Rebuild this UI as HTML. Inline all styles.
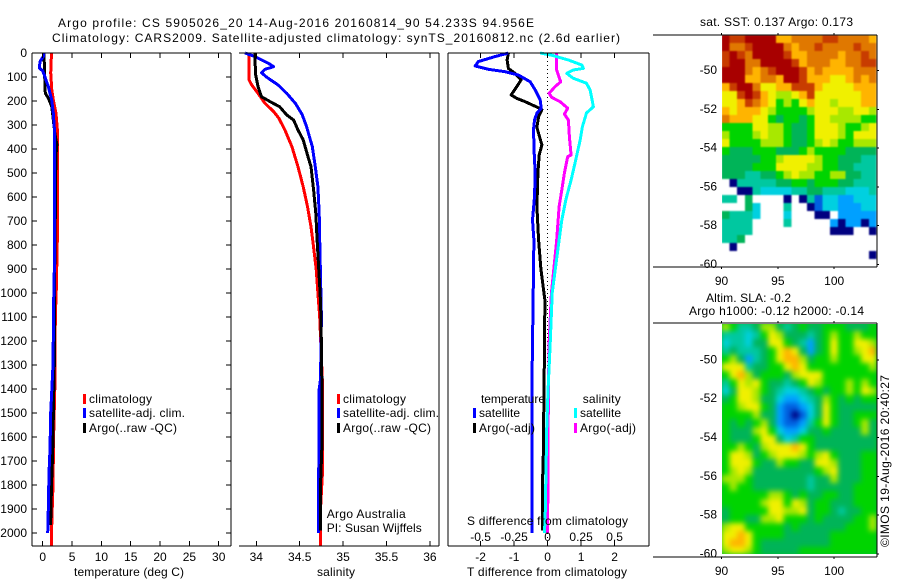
<!DOCTYPE html>
<html>
<head>
<meta charset="utf-8">
<title>Argo profile</title>
<style>
html,body{margin:0;padding:0;background:#fff;width:900px;height:580px;overflow:hidden}
svg{display:block}
text{font-family:"Liberation Sans",sans-serif;font-size:12px;fill:#000}
</style>
</head>
<body>
<svg id="chart" width="900" height="580" viewBox="0 0 900 580" xmlns="http://www.w3.org/2000/svg">
<defs>
<filter id="blur-sst" x="-5%" y="-5%" width="110%" height="110%" color-interpolation-filters="sRGB"><feGaussianBlur stdDeviation="0.9"/></filter>
<filter id="blur-sla" x="-5%" y="-5%" width="110%" height="110%" color-interpolation-filters="sRGB"><feGaussianBlur stdDeviation="2.6"/></filter>
<clipPath id="clip-sst"><rect x="722" y="35" width="155" height="232"/></clipPath>
<clipPath id="clip-sla"><rect x="722" y="324" width="155" height="230"/></clipPath>
</defs>
</svg>
<script>
// ---------- profile data ----------
const tempTicks = [0, 5, 10, 15, 20, 25, 30];
const salTicks = [34, 34.5, 35, 35.5, 36];
const salTickLabels = ['34', '34.5', '35', '35.5', '36'];
const depthTicks = [0, 100, 200, 300, 400, 500, 600, 700, 800, 900, 1000, 1100, 1200, 1300, 1400, 1500, 1600, 1700, 1800, 1900, 2000];
const diffTTicks = [-2, -1, 0, 1, 2];
const diffSTicks = [-0.5, -0.25, 0, 0.25, 0.5];
const diffSTickLabels = ['-0.5', '-0.25', '0', '0.25', '0.5'];
const lonTicks = [90, 95, 100];
const latTicks = [-50, -52, -54, -56, -58, -60];

const tempClimDepth = [0, 83, 154, 196, 251, 321, 760, 1000, 1100, 1362, 1600, 1800, 1950, 2054];
const tempClimValue = [1.5, 1.36, 1.55, 1.8, 2.27, 2.5, 2.5, 2.3, 2.15, 2.1, 1.85, 1.75, 1.55, 1.5];
const tempSatDepth = [0, 15, 36, 63, 74, 99, 140, 196, 251, 335, 830, 1000, 1300, 1500, 1650, 1750, 1900, 2000];
const tempSatValue = [0.22, 0.1, -0.46, -0.58, 0, 0.39, 0.95, 1.53, 1.8, 2.05, 2.05, 1.9, 1.75, 1.36, 1.25, 1.07, 0.95, 0.85];
const tempArgoDepth = [0, 100, 167, 188, 222, 278, 340, 380, 430, 800, 1000, 1300, 1400, 1660, 1800, 1967];
const tempArgoValue = [0.22, 0.34, 0.45, 0.95, 1.53, 1.8, 2.1, 2.42, 2.25, 2.1, 2.0, 1.97, 1.9, 1.7, 1.5, 1.35];

const salClimDepth = [0, 112, 133, 168, 210, 244, 272, 321, 390, 474, 557, 640, 724, 779, 900, 1000, 1100, 1360, 1760, 1900, 2054];
const salClimValue = [33.916, 33.916, 33.947, 34.02, 34.1, 34.2, 34.26, 34.33, 34.41, 34.48, 34.54, 34.59, 34.63, 34.65, 34.69, 34.71, 34.73, 34.76, 34.76, 34.74, 34.74];
const salSatDepth = [0, 15, 43, 57, 68, 82, 101, 133, 168, 210, 258, 307, 390, 474, 557, 668, 779, 1100, 1360, 1400, 1700, 1750, 2000];
const salSatValue = [33.87, 33.985, 34.14, 34.2, 34.1, 34.06, 34.12, 34.25, 34.35, 34.45, 34.53, 34.58, 34.645, 34.68, 34.71, 34.725, 34.73, 34.75, 34.74, 34.725, 34.725, 34.715, 34.715];
const salArgoDepth = [0, 85, 140, 182, 203, 224, 258, 279, 321, 362, 425, 474, 571, 668, 779, 1000, 1100, 1360, 1650, 1800, 1990];
const salArgoValue = [33.985, 33.99, 34.02, 34.06, 34.16, 34.27, 34.35, 34.43, 34.48, 34.54, 34.59, 34.63, 34.66, 34.685, 34.7, 34.735, 34.745, 34.755, 34.755, 34.74, 34.74];

const diffTSatDepth = [0, 15, 36, 54, 68, 78, 92, 120, 154, 196, 230, 251, 279, 320, 417, 500, 599, 696, 779, 1000, 1300, 1530, 2000];
const diffTSatValue = [-1.17, -1.57, -2.07, -2.16, -1.77, -1.27, -0.87, -0.52, -0.37, -0.22, -0.19, -0.32, -0.39, -0.42, -0.4, -0.37, -0.39, -0.45, -0.41, -0.43, -0.46, -0.47, -0.47];
const diffTArgoDepth = [0, 29, 64, 85, 112, 140, 175, 189, 203, 222, 236, 265, 310, 350, 383, 425, 500, 640, 779, 900, 1030, 1300, 1700, 1800, 1990];
const diffTArgoValue = [-1.17, -1.21, -1.17, -0.97, -0.79, -0.92, -1.09, -0.92, -0.67, -0.37, -0.17, -0.27, -0.32, -0.24, -0.17, -0.25, -0.29, -0.32, -0.27, -0.2, -0.08, -0.1, -0.13, -0.155, -0.155];
const diffSSatDepth = [0, 9, 29, 50, 64, 71, 85, 105, 126, 154, 189, 224, 250, 307, 362, 446, 529, 612, 696, 779, 1000, 1200, 1400, 1550, 1950, 2000];
const diffSSatValue = [-0.056, 0.03, 0.155, 0.255, 0.267, 0.19, 0.143, 0.19, 0.29, 0.317, 0.33, 0.342, 0.29, 0.26, 0.243, 0.21, 0.175, 0.136, 0.106, 0.086, 0.034, 0.02, 0.004, -0.006, -0.019, -0.025];
const diffSArgoDepth = [0, 71, 120, 140, 168, 185, 203, 230, 255, 279, 350, 425, 432, 500, 571, 640, 779, 1000, 1200, 1400, 2000];
const diffSArgoValue = [0.068, 0.068, 0.098, 0.056, 0.011, 0.031, 0.093, 0.15, 0.125, 0.155, 0.163, 0.175, 0.15, 0.125, 0.106, 0.086, 0.068, 0.028, 0.012, 0.006, 0.0];

// ---------- SST map values (colour level, null = no data) ----------
const sstLevels = [
[12,11,11,12,12,12,12,9,9,10,10,10,10,11,11,10,10,10,10,9],
[12,10,10,11,12,12,12,12,10,9,10,10,11,10,10,10,10,11,10,10],
[11,12,11,10,12,12,12,12,11,9,9,10,10,10,10,9,10,10,11,10],
[11,12,12,10,10,12,12,12,12,11,9,10,10,10,9,9,10,10,11,11],
[12,12,12,10,9,10,11,12,12,12,11,9,10,9,9,9,9,10,10,10],
[12,12,12,9,9,10,10,9,12,12,11,9,9,9,8,8,9,10,9,10],
[9,11,12,12,10,8,8,9,9,11,11,11,9,8,8,8,8,9,9,9],
[8,8,11,12,11,9,8,7,7,8,9,11,8,8,8,8,8,8,9,9],
[8,8,9,11,10,9,8,6,7,6,8,9,8,8,7,8,8,8,9,9],
[9,8,9,9,9,8,7,6,6,6,6,7,8,8,8,7,7,8,8,7],
[10,9,9,9,8,8,6,5,6,6,5,6,8,8,7,7,7,7,6,6],
[6,6,6,6,8,8,7,7,6,5,5,6,8,8,8,7,6,6,7,8],
[7,6,6,6,7,8,7,7,6,5,5,6,8,8,8,7,6,8,8,8],
[8,6,6,6,6,7,7,7,6,5,5,6,7,8,7,6,6,7,7,7],
[6,5,5,5,6,6,6,5,5,5,6,7,6,6,6,6,5,5,5,5],
[5,5,5,5,5,6,6,7,8,8,8,8,7,6,6,5,5,5,4,4],
[5,5,5,5,6,6,6,8,8,8,8,7,7,6,6,5,5,4,4,4],
[5,5,5,4,4,5,5,6,7,8,7,7,6,6,7,7,5,5,4,4],
[null,0,4,4,4,4,4,5,5,6,6,5,6,6,6,5,5,4,4,4],
[null,null,0,0,4,3,3,3,3,4,4,5,5,4,4,4,3,3,3,4],
[4,4,null,5,null,null,null,null,0,null,0,4,1,3,3,2,2,3,3,3],
[null,null,null,5,3,null,null,null,4,null,null,0,1,3,3,2,2,2,3,3],
[5,4,4,4,3,null,null,null,3,null,null,null,0,0,null,2,2,2,2,2],
[4,4,4,4,null,null,null,null,4,null,null,null,null,null,2,0,2,2,0,2],
[4,4,4,4,null,null,null,null,null,null,null,null,null,null,0,0,0,null,null,0],
[4,4,5,null,null,null,null,null,null,null,null,null,null,null,null,null,null,null,null,null],
[null,0,null,null,null,null,null,null,null,null,null,null,null,null,null,null,null,null,null,null],
[null,null,null,null,null,null,null,null,null,null,null,null,null,null,null,null,null,null,null,0],
[null,null,null,null,null,null,null,null,null,null,null,null,null,null,null,null,null,null,null,null]
];

// ---------- altimetry map values (colour level) ----------
const slaLevels = [
[7,6,4,4,5,7,7,5,4,5,6,5,5,6,6,6,5,5,5,6],
[4,4,4,3,4,6,8,7,5,5,5,4,5,6,7,6,6,7,6,6],
[3,4,4,3,5,5,8,8,6,5,4,2,5,6,8,6,6,8,8,7],
[4,5,4,4,4,5,6,8,9,8,5,2,5,6,8,6,6,7,8,9],
[6,7,5,2,4,5,6,8,9,9,7,5,6,6,7,6,6,6,8,8],
[8,8,8,4,5,5,6,6,8,9,8,6,6,6,6,6,6,6,6,7],
[6,8,9,7,5,6,6,6,5,7,8,8,8,6,6,6,6,6,6,6],
[4,6,8,7,8,6,5,5,4,5,6,8,7,6,6,6,7,6,7,6],
[3,5,8,8,7,6,5,4,3,3,4,5,6,5,6,6,7,6,8,7],
[5,6,8,8,7,5,5,3,2,2,3,4,5,7,6,5,6,5,6,6],
[6,6,7,8,8,6,5,2,1,1,2,3,5,8,6,5,5,5,5,5],
[6,6,6,6,7,5,5,2,1,0,1,3,5,8,6,5,5,6,6,6],
[6,5,6,5,6,7,5,2,1,1,2,4,6,8,6,5,5,6,7,5],
[6,5,5,5,7,8,6,3,2,2,3,5,5,6,5,5,5,5,7,5],
[6,5,5,5,6,8,8,5,3,4,6,6,5,5,5,5,5,5,5,5],
[6,6,7,6,5,7,8,8,8,9,8,6,5,5,5,5,5,5,5,5],
[6,8,8,7,5,6,7,8,8,8,7,6,7,8,6,5,5,5,6,6],
[6,8,8,8,6,5,5,7,6,6,5,5,8,8,7,5,5,5,6,6],
[6,7,8,7,5,5,5,5,5,5,5,5,6,7,8,5,5,5,6,6],
[7,7,7,6,5,5,5,5,5,5,5,4,5,5,7,5,5,5,6,6],
[6,7,6,6,5,5,5,5,5,5,5,4,5,5,5,5,5,6,6,6],
[6,6,6,6,6,6,7,7,6,5,6,5,5,6,6,5,5,6,6,6],
[6,6,6,6,6,7,8,8,6,8,7,5,6,6,5,5,5,6,6,6],
[5,6,6,6,6,6,8,8,7,7,8,5,6,6,5,4,5,5,6,6],
[5,6,6,5,5,7,7,8,6,6,6,5,6,5,5,5,5,6,6,7],
[7,8,8,6,6,6,6,6,5,6,5,5,5,5,5,5,6,6,6,7],
[8,8,9,8,6,6,6,6,5,5,5,5,5,5,6,6,6,6,6,6],
[8,9,9,8,6,5,5,5,5,5,5,5,5,5,6,6,6,6,6,6],
[7,8,8,7,6,5,5,5,5,5,6,6,6,6,6,6,6,6,6,6]
];

// ---------- scales ----------
const NS = 'http://www.w3.org/2000/svg';
const chart = document.getElementById('chart');
const levelColors = ['#000080','#0060e0','#00a0ff','#00d0e0','#00c8a0','#00b458','#00d400','#a8e800','#f0f000','#ffb400','#e07800','#c83c00','#a80000'];
const yDepth = d => 53 + 0.24 * d;
const xTemp = t => 42.7 + 5.867 * t;
const xSal = s => 256.3 + 86.8 * (s - 34);
const xDT = t => 547.6 + 33.5 * t;
const xDS = s => 547.6 + 134 * s;
const xLon = lon => 721.5 + 11.27 * (lon - 90);
const cellLon = 7.75 / 11.27;

function addLine(parent, x1, y1, x2, y2, name, dash) {
  const el = document.createElementNS(NS, 'line');
  el.setAttribute('x1', x1);
  el.setAttribute('y1', y1);
  el.setAttribute('x2', x2);
  el.setAttribute('y2', y2);
  el.setAttribute('stroke', '#000');
  el.setAttribute('stroke-width', 1);
  el.setAttribute('shape-rendering', 'crispEdges');
  if (dash) el.setAttribute('stroke-dasharray', dash);
  
  
  parent.appendChild(el);
  return el;
}
function addText(parent, x, y, str, name, anchor, fit) {
  const el = document.createElementNS(NS, 'text');
  el.setAttribute('x', x);
  el.setAttribute('y', y);
  if (anchor) el.setAttribute('text-anchor', anchor);
  if (fit) el.setAttribute('textLength', fit);
  el.textContent = str;
  
  
  parent.appendChild(el);
  return el;
}
function addRect(parent, x, y, w, h, fill, name) {
  const el = document.createElementNS(NS, 'rect');
  el.setAttribute('x', x);
  el.setAttribute('y', y);
  el.setAttribute('width', w);
  el.setAttribute('height', h);
  el.setAttribute('fill', fill);
  el.setAttribute('shape-rendering', 'crispEdges');
  
  
  parent.appendChild(el);
  return el;
}
function addGroup(name, parent) {
  const el = document.createElementNS(NS, 'g');
  
  
  (parent || chart).appendChild(el);
  return el;
}
function addProfile(parent, depths, values, xFn, color, name) {
  const el = document.createElementNS(NS, 'polyline');
  el.setAttribute('points', depths.map((d, i) => xFn(values[i]).toFixed(1) + ',' + yDepth(d).toFixed(1)).join(' '));
  el.setAttribute('fill', 'none');
  el.setAttribute('stroke', color);
  el.setAttribute('stroke-width', 3);
  el.setAttribute('stroke-linejoin', 'round');
  el.setAttribute('shape-rendering', 'crispEdges');
  
  
  parent.appendChild(el);
  return el;
}
function addLegend(parent, x, y, color, label, name, fit) {
  addRect(parent, x, y - 9, 3, 10, color, name + '-swatch');
  addText(parent, x + 6, y, label, name + '-label', null, fit);
}

// ---------- titles ----------
const titles = addGroup('figure-titles');
addText(titles, 58, 27, 'Argo profile: CS 5905026_20 14-Aug-2016 20160814_90 54.233S 94.956E', 'figure-title-line-1', null, 476);
addText(titles, 52, 42, 'Climatology: CARS2009. Satellite-adjusted climatology: synTS_20160812.nc (2.6d earlier)', 'figure-title-line-2', null, 568);

// ---------- temperature panel ----------
const p1 = addGroup('temperature-panel');
addProfile(p1, tempClimDepth, tempClimValue, xTemp, '#ff0000', 'temperature-climatology-line');
addProfile(p1, tempArgoDepth, tempArgoValue, xTemp, '#000000', 'temperature-argo-line');
addProfile(p1, tempSatDepth, tempSatValue, xTemp, '#0000ff', 'temperature-satellite-line');
addLine(p1, 32, 53, 231, 53, 'temperature-top-axis');
addLine(p1, 32, 546, 231, 546, 'temperature-bottom-axis');
addLine(p1, 32, 53, 32, 546, 'temperature-left-axis');
addLine(p1, 231, 53, 231, 546, 'temperature-right-axis');
depthTicks.forEach(d => {
  addLine(p1, 32, yDepth(d), 37, yDepth(d), 'depth-tick-left');
  addLine(p1, 226, yDepth(d), 231, yDepth(d), 'depth-tick-right');
  addText(p1, 27, yDepth(d) + 4, String(d), 'depth-tick-label', 'end');
});
tempTicks.forEach(t => {
  addLine(p1, xTemp(t), 53, xTemp(t), 58, 'temperature-tick-top');
  addLine(p1, xTemp(t), 541, xTemp(t), 546, 'temperature-tick-bottom');
  addText(p1, xTemp(t), 561, String(t), 'temperature-tick-label', 'middle');
});
addText(p1, 129, 576, 'temperature (deg C)', 'temperature-axis-title', 'middle', 110);
addLegend(p1, 83, 403, '#ff0000', 'climatology', 'temperature-legend-climatology', 63);
addLegend(p1, 83, 417, '#0000ff', 'satellite-adj. clim.', 'temperature-legend-satellite', 96);
addLegend(p1, 83, 432, '#000000', 'Argo(..raw -QC)', 'temperature-legend-argo', 88);

// ---------- salinity panel ----------
const p2 = addGroup('salinity-panel');
addProfile(p2, salClimDepth, salClimValue, xSal, '#ff0000', 'salinity-climatology-line');
addProfile(p2, salSatDepth, salSatValue, xSal, '#0000ff', 'salinity-satellite-line');
addProfile(p2, salArgoDepth, salArgoValue, xSal, '#000000', 'salinity-argo-line');
addLine(p2, 239, 53, 439, 53, 'salinity-top-axis');
addLine(p2, 239, 546, 439, 546, 'salinity-bottom-axis');
addLine(p2, 439, 53, 439, 546, 'salinity-right-axis');
salTicks.forEach((s, i) => {
  addLine(p2, xSal(s), 53, xSal(s), 58, 'salinity-tick-top');
  addLine(p2, xSal(s), 541, xSal(s), 546, 'salinity-tick-bottom');
  addText(p2, xSal(s), 561, salTickLabels[i], 'salinity-tick-label', 'middle');
});
addText(p2, 336, 576, 'salinity', 'salinity-axis-title', 'middle', 38);
addLegend(p2, 337, 403, '#ff0000', 'climatology', 'salinity-legend-climatology', 63);
addLegend(p2, 337, 417, '#0000ff', 'satellite-adj. clim.', 'salinity-legend-satellite', 96);
addLegend(p2, 337, 432, '#000000', 'Argo(..raw -QC)', 'salinity-legend-argo', 88);
addText(p2, 326.7, 518, 'Argo Australia', 'float-operator-label', null, 79);
addText(p2, 326.7, 532, 'PI: Susan Wijffels', 'principal-investigator-label', null, 95);

// ---------- difference panel ----------
const p3 = addGroup('difference-panel');
addLine(p3, xDT(0), 53, xDT(0), 546, 'zero-difference-line', '1 3');
addProfile(p3, diffTArgoDepth, diffTArgoValue, xDT, '#000000', 'temperature-difference-argo-line');
addProfile(p3, diffTSatDepth, diffTSatValue, xDT, '#0000ff', 'temperature-difference-satellite-line');
addProfile(p3, diffSArgoDepth, diffSArgoValue, xDS, '#ff00ff', 'salinity-difference-argo-line');
addProfile(p3, diffSSatDepth, diffSSatValue, xDS, '#00ffff', 'salinity-difference-satellite-line');
addLine(p3, 448, 53, 649, 53, 'difference-top-axis');
addLine(p3, 448, 546, 649, 546, 'difference-bottom-axis');
addLine(p3, 448, 53, 448, 546, 'difference-left-axis');
addLine(p3, 649, 53, 649, 546, 'difference-right-axis');
diffTTicks.forEach(t => {
  addLine(p3, xDT(t), 53, xDT(t), 58, 'difference-tick-top');
  addLine(p3, xDT(t), 541, xDT(t), 546, 'difference-tick-bottom');
  addText(p3, xDT(t), 561, String(t), 'temperature-difference-tick-label', 'middle');
});
diffSTicks.forEach((s, i) => {
  addText(p3, xDS(s), 541, diffSTickLabels[i], 'salinity-difference-tick-label', 'middle');
});
addText(p3, 467, 525, 'S difference from climatology', 'salinity-difference-axis-title', null, 161);
addText(p3, 467, 576, 'T difference from climatology', 'temperature-difference-axis-title', null, 160);
addText(p3, 481, 403, 'temperature', 'difference-legend-temperature-heading', null, 64);
addText(p3, 582.7, 403, 'salinity', 'difference-legend-salinity-heading', null, 38);
addLegend(p3, 473, 417, '#0000ff', 'satellite', 'difference-legend-temperature-satellite', 41);
addLegend(p3, 473, 432, '#000000', 'Argo(-adj)', 'difference-legend-temperature-argo', 56);
addLegend(p3, 574, 417, '#00ffff', 'satellite', 'difference-legend-salinity-satellite', 41);
addLegend(p3, 574, 432, '#ff00ff', 'Argo(-adj)', 'difference-legend-salinity-argo', 56);

// ---------- maps ----------
function drawMap(name, levels, top, bottom, dataBottom, lat0, pxPerDeg, tickLabelY, clipId, blurId, backing) {
  const g = addGroup(name);
  const yLat = lat => top + (lat0 - lat) * pxPerDeg;
  const cellLat = 8 / pxPerDeg;
  const clip = addGroup(name + '-image', g);
  clip.setAttribute('clip-path', 'url(#' + clipId + ')');
  if (backing) addRect(clip, 722, top, 155, dataBottom - top, backing, name + '-backing');
  const cells = addGroup(name + '-cells', clip);
  cells.setAttribute('filter', 'url(#' + blurId + ')');
  levels.forEach((row, r) => {
    row.forEach((v, c) => {
      if (v === null) return;
      const x0 = xLon(90 + c * cellLon);
      const x1 = xLon(90 + (c + 1) * cellLon);
      const y0 = yLat(lat0 - r * cellLat);
      const y1 = Math.min(yLat(lat0 - (r + 1) * cellLat), dataBottom);
      addRect(cells, x0, y0, x1 - x0, y1 - y0, levelColors[v], name + '-cell');
    });
  });
  addLine(g, 653, top, 877, top, name + '-top-axis');
  addLine(g, 653, bottom, 877, bottom, name + '-bottom-axis');
  addLine(g, 877, top, 877, bottom, name + '-right-axis');
  lonTicks.forEach(lon => {
    addLine(g, xLon(lon), top - 2, xLon(lon), top, name + '-lon-tick-top');
    addLine(g, xLon(lon), bottom, xLon(lon), bottom + 2, name + '-lon-tick-bottom');
    addText(g, xLon(lon), tickLabelY, String(lon), name + '-lon-tick-label', 'middle');
  });
  latTicks.forEach(lat => {
    addLine(g, 877, yLat(lat), 879, yLat(lat), name + '-lat-tick');
    addText(g, 717, yLat(lat) + 3.5, String(lat), name + '-lat-tick-label', 'end');
  });
}
drawMap('sst-map', sstLevels, 35, 267, 267, -48.17, 19.4, 285, 'clip-sst', 'blur-sst', null);
drawMap('sla-map', slaLevels, 323, 557, 554, -48.1, 19.4, 575, 'clip-sla', 'blur-sla', '#00c030');
addText(chart, 700, 26, 'sat. SST: 0.137 Argo: 0.173', 'sst-map-title', null, 153);
addText(chart, 706, 302, 'Altim. SLA: -0.2', 'sla-map-title', null, 85);
addText(chart, 689, 315, 'Argo h1000: -0.12 h2000: -0.14', 'sla-map-argo-heights', null, 175);
const stamp = addText(chart, 0, 0, '\u00A9IMOS 19-Aug-2016 20:40:27', 'timestamp-label', null, 172);
stamp.setAttribute('transform', 'translate(889,547) rotate(-90)');
</script>
</body>
</html>
